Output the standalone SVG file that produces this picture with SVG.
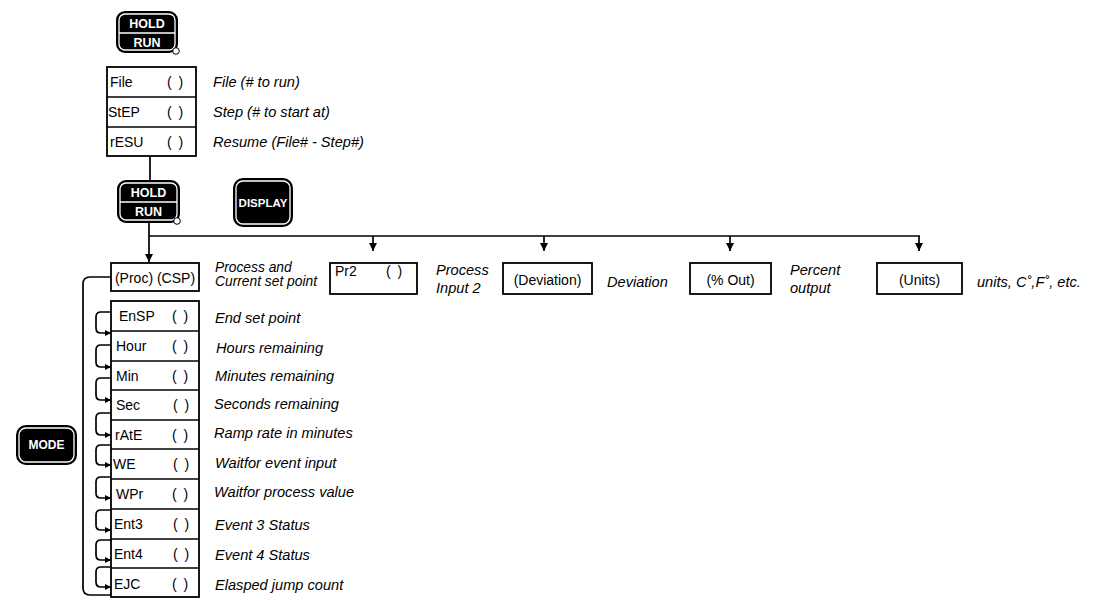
<svg xmlns="http://www.w3.org/2000/svg" width="1102" height="601" viewBox="0 0 1102 601">
<defs>
<marker id="ah" viewBox="0 0 10 10" refX="10" refY="5" markerWidth="8" markerHeight="8" markerUnits="userSpaceOnUse" orient="auto">
<path d="M0,0 L10,5 L0,10 Z" fill="#000"/>
</marker>
<marker id="ahs" viewBox="0 0 10 10" refX="10" refY="5" markerWidth="8" markerHeight="6" markerUnits="userSpaceOnUse" orient="auto">
<path d="M0,0 L10,5 L0,10 Z" fill="#000"/>
</marker>
</defs>
<style>
text{font-family:"Liberation Sans",Arial,sans-serif;fill:#000}
.lbl{font-size:14px}
.dsc{font-size:14.6px;font-style:italic}
.btn{font-size:12.5px;font-weight:bold;fill:#fff;text-anchor:middle}
.bo{fill:#000}
.bi{fill:none;stroke:#fff;stroke-width:1.3}
.box{fill:#fff;stroke:#000;stroke-width:1.8}
.ln{fill:none;stroke:#000;stroke-width:1.7}
.c{text-anchor:middle}
.kn{fill:#fff;stroke:#000;stroke-width:1}
</style>
<rect width="1102" height="601" fill="#fff"/>

<g id="holdrun1">
<rect class="bo" x="116" y="11" width="62" height="42" rx="9"/>
<rect class="bi" x="119" y="14" width="56" height="36" rx="6"/>
<line x1="119" y1="33" x2="175" y2="33" stroke="#fff" stroke-width="1.3"/>
<text class="btn" x="147" y="28">HOLD</text>
<text class="btn" x="147" y="47">RUN</text>
<circle class="kn" cx="176" cy="51" r="3.3"/>
</g>

<g id="filebox">
<rect class="box" x="107" y="67" width="89" height="89"/>
<line class="ln" x1="107" y1="97" x2="196" y2="97"/>
<line class="ln" x1="107" y1="127" x2="196" y2="127"/>
<text class="lbl" x="110" y="87">File</text>
<text class="lbl" x="167" y="87" word-spacing="3">( )</text>
<text class="lbl" x="108" y="117">StEP</text>
<text class="lbl" x="167" y="117" word-spacing="3">( )</text>
<text class="lbl" x="110" y="147">rESU</text>
<text class="lbl" x="167" y="147" word-spacing="3">( )</text>
<text class="dsc" x="213" y="87">File (# to run)</text>
<text class="dsc" x="213" y="117">Step (# to start at)</text>
<text class="dsc" x="213" y="147">Resume (File# - Step#)</text>
</g>

<g id="holdrun2">
<rect class="bo" x="117" y="180" width="63" height="43" rx="9"/>
<rect class="bi" x="120" y="183" width="57" height="37" rx="6"/>
<line x1="120" y1="202" x2="177" y2="202" stroke="#fff" stroke-width="1.3"/>
<text class="btn" x="148.5" y="197">HOLD</text>
<text class="btn" x="148.5" y="216">RUN</text>
<circle class="kn" cx="177" cy="221" r="3.3"/>
</g>

<g id="display">
<rect class="bo" x="233" y="178" width="60" height="49" rx="10"/>
<rect class="bi" x="236" y="181" width="54" height="43" rx="7"/>
<text class="btn" x="263" y="207" style="font-size:11.5px">DISPLAY</text>
</g>

<g id="mode">
<rect class="bo" x="16" y="425" width="61" height="40" rx="10"/>
<rect class="bi" x="19" y="428" width="55" height="34" rx="7"/>
<text class="btn" x="46.5" y="449" style="font-size:12px">MODE</text>
</g>

<g id="connectors">
<line class="ln" x1="150" y1="156" x2="150" y2="180"/>
<line class="ln" x1="149" y1="223" x2="149" y2="262" marker-end="url(#ah)"/>
<line class="ln" x1="149" y1="236" x2="920" y2="236"/>
<line class="ln" x1="373" y1="236" x2="373" y2="251" marker-end="url(#ah)"/>
<line class="ln" x1="544" y1="236" x2="544" y2="251" marker-end="url(#ah)"/>
<line class="ln" x1="730" y1="236" x2="730" y2="251" marker-end="url(#ah)"/>
<line class="ln" x1="919" y1="236" x2="919" y2="251" marker-end="url(#ah)"/>
<path class="ln" d="M111 277 H90 Q83 277 83 284 V588 Q83 595 90 595 H111"/>
<path class="ln" d="M111 312 H101 Q96 312 96 317 V328 Q96 333 101 333 H111" marker-end="url(#ahs)"/>
<path class="ln" d="M111 345 H101 Q96 345 96 350 V362 Q96 367 101 367 H111" marker-end="url(#ahs)"/>
<path class="ln" d="M111 378 H101 Q96 378 96 383 V395 Q96 400 101 400 H111" marker-end="url(#ahs)"/>
<path class="ln" d="M111 413 H101 Q96 413 96 418 V430 Q96 435 101 435 H111" marker-end="url(#ahs)"/>
<path class="ln" d="M111 445 H101 Q96 445 96 450 V460 Q96 465 101 465 H111" marker-end="url(#ahs)"/>
<path class="ln" d="M111 477 H101 Q96 477 96 482 V493 Q96 498 101 498 H111" marker-end="url(#ahs)"/>
<path class="ln" d="M111 510 H101 Q96 510 96 515 V525 Q96 530 101 530 H111" marker-end="url(#ahs)"/>
<path class="ln" d="M111 540 H101 Q96 540 96 545 V555 Q96 560 101 560 H111" marker-end="url(#ahs)"/>
<path class="ln" d="M111 567 H101 Q96 567 96 572 V582 Q96 587 101 587 H111" marker-end="url(#ahs)"/>
</g>

<g id="proc">
<rect class="box" x="111" y="263" width="88" height="28"/>
<text class="lbl c" x="155" y="283">(Proc) (CSP)</text>
<text class="dsc" x="215" y="272" style="font-size:13.8px">Process and</text>
<text class="dsc" x="215" y="286" style="font-size:13.8px">Current set point</text>
</g>

<g id="pr2">
<rect class="box" x="330" y="263" width="87" height="31"/>
<text class="lbl" x="335" y="276">Pr2</text>
<text class="lbl" x="386" y="276" word-spacing="3">( )</text>
<text class="dsc" x="436" y="275">Process</text>
<text class="dsc" x="436" y="293">Input 2</text>
</g>

<g id="deviation">
<rect class="box" x="503" y="263" width="89" height="31"/>
<text class="lbl c" x="547.5" y="285">(Deviation)</text>
<text class="dsc" x="607" y="287">Deviation</text>
</g>

<g id="pctout">
<rect class="box" x="690" y="263" width="81" height="31"/>
<text class="lbl c" x="730.5" y="285">(% Out)</text>
<text class="dsc" x="790" y="275">Percent</text>
<text class="dsc" x="790" y="293">output</text>
</g>

<g id="units">
<rect class="box" x="877" y="263" width="85" height="31"/>
<text class="lbl c" x="919.5" y="285">(Units)</text>
<text class="dsc" x="977" y="287">units, C˚,F˚, etc.</text>
</g>

<g id="steps">
<rect class="box" x="111" y="301" width="88" height="296"/>
<line class="ln" x1="111" y1="331" x2="199" y2="331"/>
<line class="ln" x1="111" y1="361" x2="199" y2="361"/>
<line class="ln" x1="111" y1="390" x2="199" y2="390"/>
<line class="ln" x1="111" y1="420" x2="199" y2="420"/>
<line class="ln" x1="111" y1="449" x2="199" y2="449"/>
<line class="ln" x1="111" y1="479" x2="199" y2="479"/>
<line class="ln" x1="111" y1="509" x2="199" y2="509"/>
<line class="ln" x1="111" y1="539" x2="199" y2="539"/>
<line class="ln" x1="111" y1="568" x2="199" y2="568"/>
<text class="lbl" x="119" y="321">EnSP</text>
<text class="lbl" x="116" y="351">Hour</text>
<text class="lbl" x="116" y="381">Min</text>
<text class="lbl" x="116" y="410">Sec</text>
<text class="lbl" x="115" y="440">rAtE</text>
<text class="lbl" x="113" y="469">WE</text>
<text class="lbl" x="116" y="499">WPr</text>
<text class="lbl" x="114" y="529">Ent3</text>
<text class="lbl" x="114" y="559">Ent4</text>
<text class="lbl" x="114" y="589">EJC</text>
<g word-spacing="3">
<text class="lbl" x="172" y="321">( )</text>
<text class="lbl" x="172" y="351">( )</text>
<text class="lbl" x="172" y="381">( )</text>
<text class="lbl" x="173" y="410">( )</text>
<text class="lbl" x="172" y="440">( )</text>
<text class="lbl" x="173" y="469">( )</text>
<text class="lbl" x="172" y="499">( )</text>
<text class="lbl" x="173" y="529">( )</text>
<text class="lbl" x="173" y="559">( )</text>
<text class="lbl" x="172" y="589">( )</text>
</g>
<text class="dsc" x="215" y="323">End set point</text>
<text class="dsc" x="216" y="353">Hours remaining</text>
<text class="dsc" x="215" y="381">Minutes remaining</text>
<text class="dsc" x="214" y="409">Seconds remaining</text>
<text class="dsc" x="214" y="438">Ramp rate in minutes</text>
<text class="dsc" x="215" y="468">Waitfor event input</text>
<text class="dsc" x="214" y="497">Waitfor process value</text>
<text class="dsc" x="215" y="530">Event 3 Status</text>
<text class="dsc" x="215" y="560">Event 4 Status</text>
<text class="dsc" x="215" y="590">Elasped jump count</text>
</g>
</svg>
